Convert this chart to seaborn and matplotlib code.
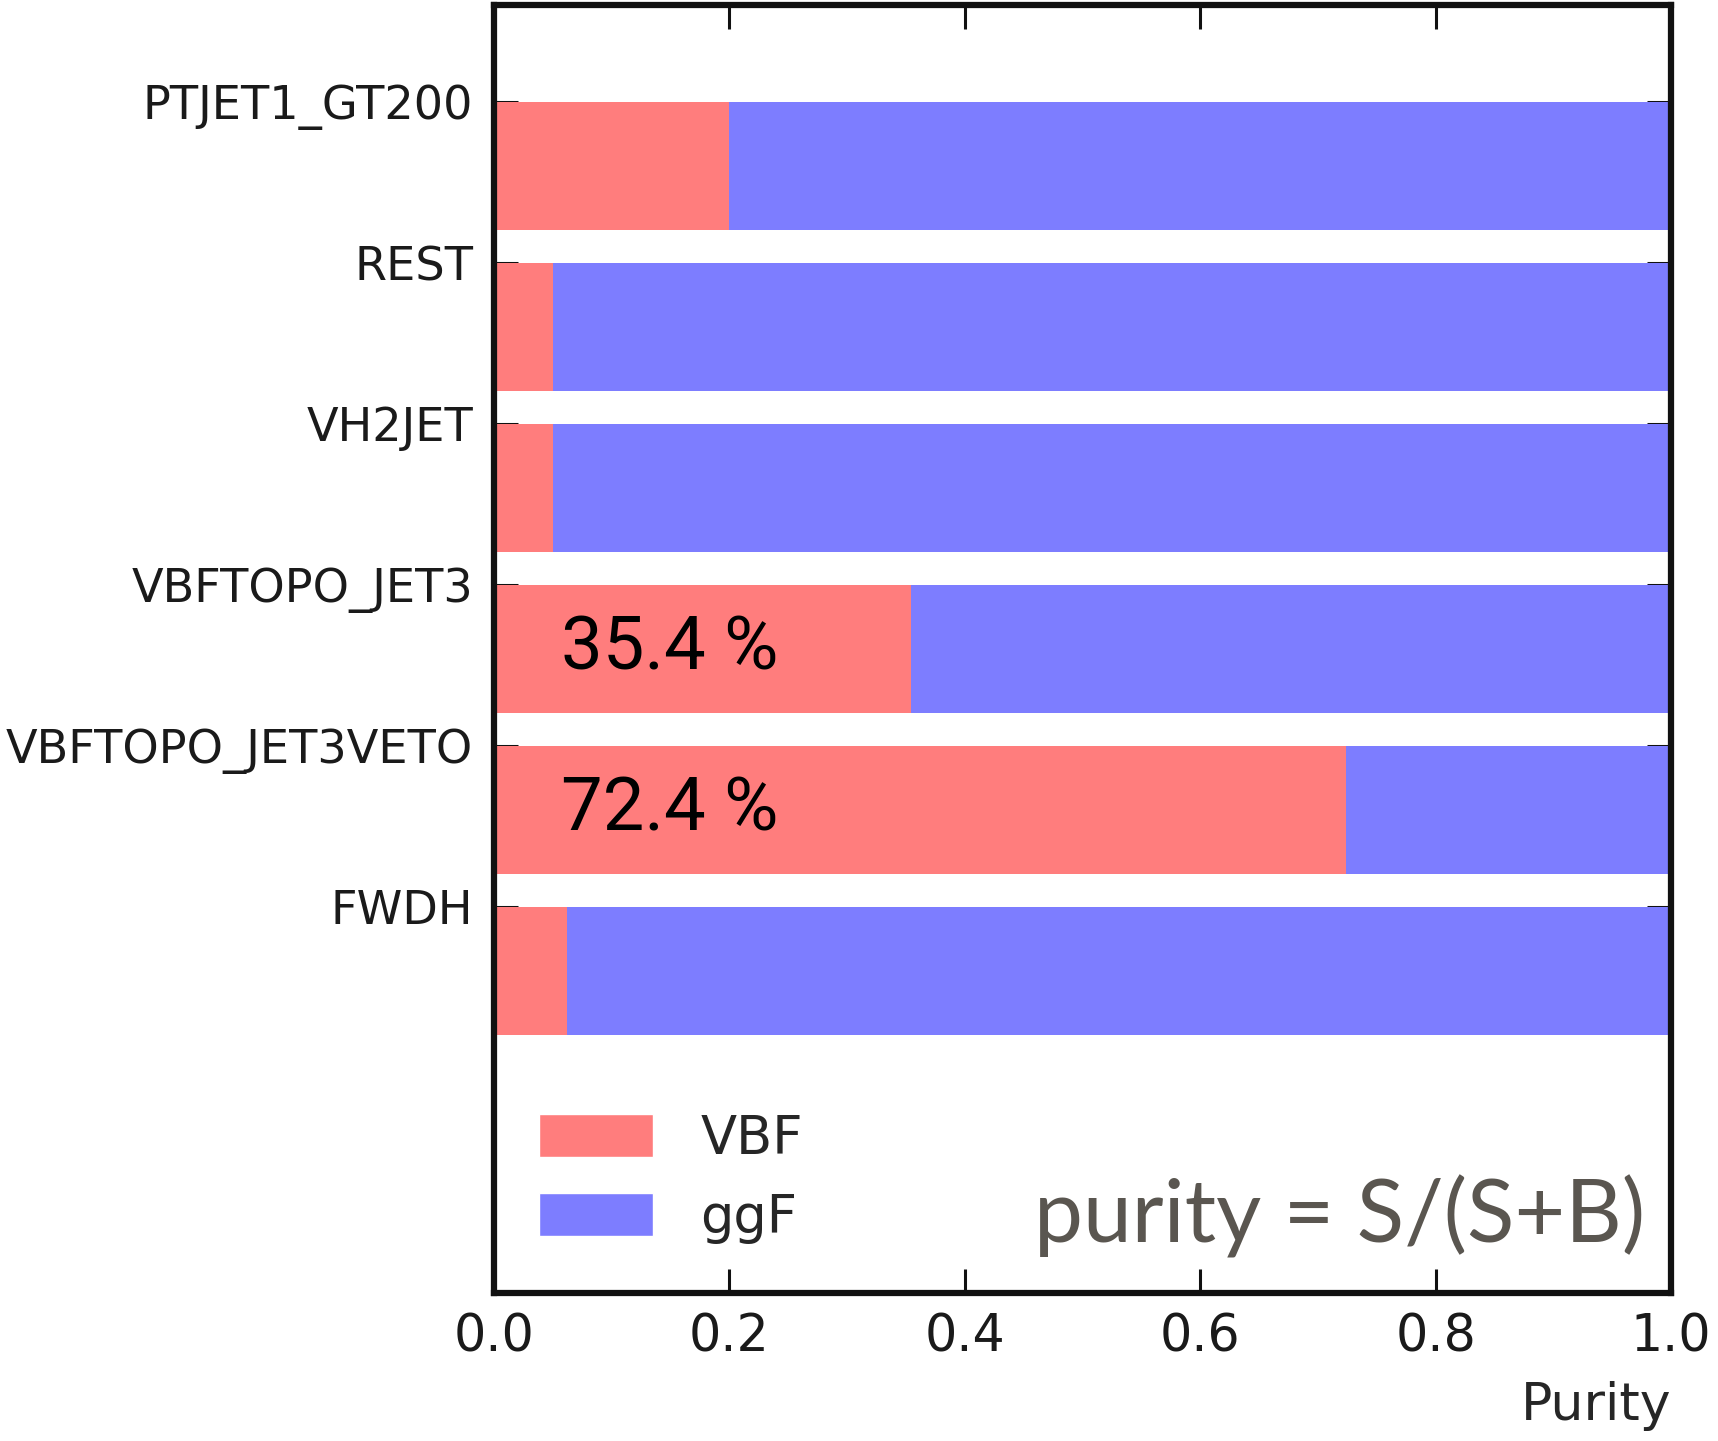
import numpy as np
import pandas as pd
import matplotlib
matplotlib.use("Agg")
import matplotlib.pyplot as plt
from matplotlib.patches import Patch
import seaborn as sns

# Event categories (top to bottom) and the VBF / ggF purity in each
categories = ["PTJET1_GT200", "REST", "VH2JET", "VBFTOPO_JET3",
              "VBFTOPO_JET3VETO", "FWDH"]
vbf_purity = [0.200, 0.050, 0.050, 0.354, 0.724, 0.062]
ggf_purity = [0.800, 0.950, 0.950, 0.646, 0.276, 0.938]
annotated = ["VBFTOPO_JET3", "VBFTOPO_JET3VETO"]
x_ticks = [0.0, 0.2, 0.4, 0.6, 0.8, 1.0]

vbf_color = "#FF7D7D"
ggf_color = "#7D7DFF"

df = pd.DataFrame({
    "category": categories,
    "VBF": vbf_purity,
    "ggF": ggf_purity,
})
df["total"] = df["VBF"] + df["ggF"]

sns.set_style("ticks")
plt.rcParams["font.family"] = ["DejaVu Sans"]

fig = plt.figure(figsize=(17.18, 14.41), dpi=100)
ax = fig.add_axes([0.2875, 0.1027, 0.9727 - 0.2875, 0.9965 - 0.1027])

# stacked horizontal bars: ggF drawn to the full height, VBF on top of it
sns.barplot(data=df, y="category", x="total", orient="h", color=ggf_color,
            saturation=1, width=0.8, ax=ax, linewidth=0)
sns.barplot(data=df, y="category", x="VBF", orient="h", color=vbf_color,
            saturation=1, width=0.8, ax=ax, linewidth=0)

# category ticks sit on the upper edge of each bar
pos = np.arange(len(categories))
ax.set_yticks(pos - 0.4, categories)
ax.set_ylim(7.0, -1.0)
ax.set_xlim(0, 1)
ax.set_xticks(x_ticks, [f"{t:.1f}" for t in x_ticks])
ax.set_ylabel("")
ax.set_xlabel("Purity", loc="right", fontsize=37.5, labelpad=13)

ax.tick_params(axis="both", which="major", direction="in", length=17,
               width=2.2, top=True, right=True, color="#111111")
ax.tick_params(axis="y", labelsize=33.3, pad=15, labelcolor="#1a1a1a")
ax.tick_params(axis="x", labelsize=36.5, pad=14, labelcolor="#1a1a1a")
for sp in ax.spines.values():
    sp.set_visible(True)
    sp.set_linewidth(4.5)
    sp.set_color("#111111")

# percentage labels on the VBF-dominated categories
for cat, v in zip(categories, vbf_purity):
    if cat in annotated:
        i = categories.index(cat)
        ax.text(0.057, i + 0.13, f"{v * 100:.1f} %", fontsize=53.5,
                family=["Roboto", "DejaVu Sans"], color="black",
                ha="left", va="baseline")

handles = [Patch(facecolor=vbf_color, label="VBF"),
           Patch(facecolor=ggf_color, label="ggF")]
ax.legend(handles=handles, loc="lower left", frameon=False, fontsize=38,
          handlelength=2.17, handleheight=0.88, handletextpad=0.9,
          labelspacing=0.5, bbox_to_anchor=(0.02, 0.022),
          borderaxespad=0)

ax.text(0.978, 0.0396, "purity = S/(S+B)", transform=ax.transAxes,
        fontsize=63, family=["Lato", "DejaVu Sans"], color="#5A5650",
        ha="right", va="baseline")

fig.savefig("out.png", dpi=100)
